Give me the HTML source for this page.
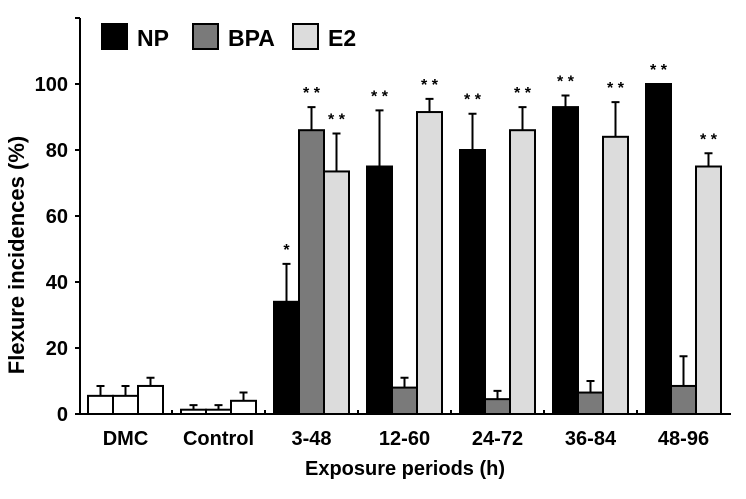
<!DOCTYPE html>
<html><head><meta charset="utf-8"><style>
body{margin:0;background:#fff;}
svg text{font-family:"Liberation Sans",Arial,sans-serif;font-weight:bold;}
</style></head><body>
<svg id="chart" width="746" height="494"></svg>
<script>
const categories=["DMC","Control","3-48","12-60","24-72","36-84","48-96"];
const npValues=[5.5,1.3,34,75,80,93,100];
const bpaValues=[5.5,1.3,86,8,4.5,6.5,8.5];
const e2Values=[8.5,4,73.5,91.5,86,84,75];
const npErr=[3,1.4,11.5,17,11,3.5,0];
const bpaErr=[3,1.4,7,3,2.5,3.5,9];
const e2Err=[2.5,2.5,11.5,4,7,10.5,4];
const npStars=["","","*","**","**","**","**"];
const bpaStars=["","","**","","","",""];
const e2Stars=["","","**","**","**","**","**"];
const yTicks=[0,20,40,60,80,100,120];
const yTickLabels=["0","20","40","60","80","100",""];

const NS="http://www.w3.org/2000/svg";
const svg=document.getElementById("chart");
function mk(t,a,p){const e=document.createElementNS(NS,t);for(const k in a)e.setAttribute(k,a[k]);(p||svg).appendChild(e);return e;}
const y0=414,pxPer=3.3;
const yS=v=>y0-v*pxPer;
const gStart=i=>88+i*93;
const bw=25;

const ya=mk("line",{x1:80,y1:yS(120),x2:80,y2:y0+1,stroke:"#000","stroke-width":2});


const xa=mk("line",{x1:79,y1:y0,x2:731,y2:y0,stroke:"#000","stroke-width":2});


yTicks.forEach((t,i)=>{
  const tk=mk("line",{x1:80,y1:yS(t),x2:75,y2:yS(t),stroke:"#000","stroke-width":2});
  
  
  if(yTickLabels[i]){
    const tl=mk("text",{x:68,y:yS(t)+7,"text-anchor":"end","font-size":20});
    tl.textContent=yTickLabels[i];
    
    
  }
});
for(let i=1;i<categories.length;i++){
  const tk=mk("line",{x1:gStart(i)-9,y1:y0,x2:gStart(i)-9,y2:y0-4,stroke:"#000","stroke-width":2});
  
  
}
function bar(i,k,v,err,star,fill,name){
  const x=gStart(i)+k*bw;
  const r=mk("rect",{x:x,y:yS(v),width:bw,height:y0-yS(v),fill:fill,stroke:"#000","stroke-width":2});
  
  
  const cx=x+bw/2;
  let top=yS(v);
  if(err>0){
    top=yS(v+err);
    const e=mk("path",{d:`M${cx},${yS(v)}V${top}M${cx-4},${top}H${cx+4}`,stroke:"#000","stroke-width":2,fill:"none"});
    
    
  }
  if(star){
    const s=mk("text",{x:cx,y:top-9,"text-anchor":"middle","font-size":16});
    s.textContent=star.split("").join(" ");
    
    
  }
}
categories.forEach((c,i)=>{
  const ctl=i<2;
  bar(i,0,npValues[i],npErr[i],npStars[i],ctl?"#fff":"#000","bar-np-"+c);
  bar(i,1,bpaValues[i],bpaErr[i],bpaStars[i],ctl?"#fff":"#7a7a7a","bar-bpa-"+c);
  bar(i,2,e2Values[i],e2Err[i],e2Stars[i],ctl?"#fff":"#dcdcdc","bar-e2-"+c);
  const l=mk("text",{x:gStart(i)+37.5,y:445,"text-anchor":"middle","font-size":20});
  l.textContent=c;
  
  
});
const xt=mk("text",{x:405,y:475,"text-anchor":"middle","font-size":20});
xt.textContent="Exposure periods (h)";


const yt=mk("text",{x:0,y:0,"text-anchor":"middle","font-size":22,transform:"translate(24,255) rotate(-90)"});
yt.textContent="Flexure incidences (%)";


const leg=[["NP","#000",102],["BPA","#7a7a7a",193],["E2","#dcdcdc",293]];
leg.forEach(l=>{
  const r=mk("rect",{x:l[2],y:24,width:25,height:25,fill:l[1],stroke:"#000","stroke-width":2});
  
  
  const t=mk("text",{x:l[2]+35,y:46,"font-size":23});
  t.textContent=l[0];
  
  
});
</script>
</body></html>
